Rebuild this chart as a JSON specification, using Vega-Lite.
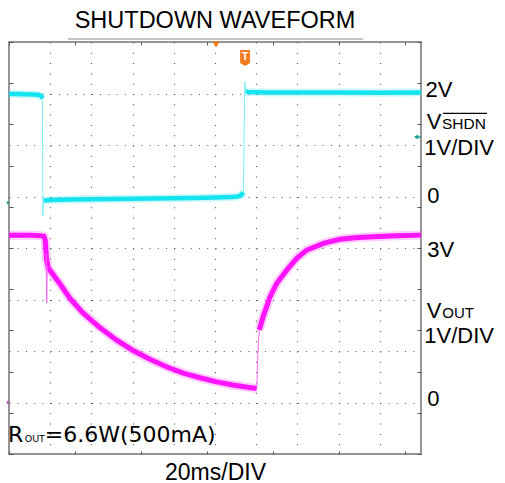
{
  "$schema": "https://vega.github.io/schema/vega-lite/v6.json",
  "width": 412,
  "height": 412,
  "autosize": {"type": "none"},
  "padding": {"left": 9, "top": 42, "right": 84, "bottom": 29},
  "background": "white",
  "config": {"view": {"stroke": "#959595", "strokeWidth": 2}},
  "datasets": {
    "cyanLevels": [
      {"seg": "a", "t": 0, "v": 1.99}, {"seg": "a", "t": 4, "v": 1.99}, {"seg": "a", "t": 8, "v": 1.985}, {"seg": "a", "t": 12, "v": 1.98}, {"seg": "a", "t": 14.5, "v": 1.97}, {"seg": "a", "t": 15.6, "v": 1.95}, {"seg": "a", "t": 16.2, "v": 1.9},
      {"seg": "b", "t": 16.7, "v": -0.08}, {"seg": "b", "t": 20, "v": -0.07}, {"seg": "b", "t": 30, "v": -0.06}, {"seg": "b", "t": 40, "v": -0.055}, {"seg": "b", "t": 50, "v": -0.05}, {"seg": "b", "t": 60, "v": -0.045}, {"seg": "b", "t": 70, "v": -0.04}, {"seg": "b", "t": 80, "v": -0.035}, {"seg": "b", "t": 90, "v": -0.03}, {"seg": "b", "t": 100, "v": -0.02}, {"seg": "b", "t": 108, "v": -0.01}, {"seg": "b", "t": 111, "v": 0}, {"seg": "b", "t": 112.8, "v": 0.03}, {"seg": "b", "t": 113.8, "v": 0.08},
      {"seg": "c", "t": 114.9, "v": 2.05}, {"seg": "c", "t": 116, "v": 2.03}, {"seg": "c", "t": 125, "v": 2.02}, {"seg": "c", "t": 140, "v": 2.02}, {"seg": "c", "t": 160, "v": 2.02}, {"seg": "c", "t": 180, "v": 2.015}, {"seg": "c", "t": 200, "v": 2.02}
    ],
    "cyanEdges": [
      {"seg": "e1", "t": 16.2, "v": 1.9}, {"seg": "e1", "t": 16.45, "v": -0.38}, {"seg": "e1", "t": 16.7, "v": -0.08},
      {"seg": "e2", "t": 113.8, "v": 0.08}, {"seg": "e2", "t": 114.45, "v": 2.23}, {"seg": "e2", "t": 114.9, "v": 2.05}
    ],
    "magLevels": [
      {"seg": "a", "t": 0, "v": 3.25}, {"seg": "a", "t": 5, "v": 3.25}, {"seg": "a", "t": 10, "v": 3.25}, {"seg": "a", "t": 15, "v": 3.24}, {"seg": "a", "t": 16.9, "v": 3.23}, {"seg": "a", "t": 17.6, "v": 3.15}, {"seg": "a", "t": 18.2, "v": 2.78}, {"seg": "a", "t": 19.1, "v": 2.61}, {"seg": "a", "t": 24.8, "v": 2.3}, {"seg": "a", "t": 29.6, "v": 2.02}, {"seg": "a", "t": 35.9, "v": 1.74}, {"seg": "a", "t": 44.2, "v": 1.45}, {"seg": "a", "t": 52.3, "v": 1.21}, {"seg": "a", "t": 60.2, "v": 1.01}, {"seg": "a", "t": 68.4, "v": 0.84}, {"seg": "a", "t": 76.7, "v": 0.69}, {"seg": "a", "t": 84.6, "v": 0.57}, {"seg": "a", "t": 92.7, "v": 0.48}, {"seg": "a", "t": 100.8, "v": 0.4}, {"seg": "a", "t": 108.7, "v": 0.34}, {"seg": "a", "t": 115, "v": 0.3}, {"seg": "a", "t": 120.3, "v": 0.27},
      {"seg": "b", "t": 121.5, "v": 1.41}, {"seg": "b", "t": 123.4, "v": 1.67}, {"seg": "b", "t": 126.7, "v": 2.05}, {"seg": "b", "t": 129.9, "v": 2.31}, {"seg": "b", "t": 134.8, "v": 2.57}, {"seg": "b", "t": 139.7, "v": 2.8}, {"seg": "b", "t": 144.5, "v": 2.96}, {"seg": "b", "t": 152.6, "v": 3.09}, {"seg": "b", "t": 160.7, "v": 3.17}, {"seg": "b", "t": 168, "v": 3.2}, {"seg": "b", "t": 176.8, "v": 3.22}, {"seg": "b", "t": 188, "v": 3.24}, {"seg": "b", "t": 200, "v": 3.25}
    ],
    "magEdges": [
      {"seg": "e1", "t": 18.0, "v": 2.9}, {"seg": "e1", "t": 18.3, "v": 1.93}, {"seg": "e1", "t": 18.55, "v": 2.65},
      {"seg": "e2", "t": 120.3, "v": 0.27}, {"seg": "e2", "t": 120.8, "v": 0.95}, {"seg": "e2", "t": 121.5, "v": 1.41}
    ],
    "one": [{"k": 1}]
  },
  "layer": [
    {
      "layer": [
        {
          "data": {"name": "cyanLevels"},
          "mark": {"type": "line", "color": "#5ee9f2", "strokeWidth": 8, "opacity": 0.3},
          "encoding": {
            "x": {"field": "t", "type": "quantitative", "scale": {"domain": [0, 200]},
              "axis": {"orient": "bottom", "values": [20, 40, 60, 80, 100, 120, 140, 160, 180], "grid": true, "gridDash": [1, 9.3], "gridColor": "#555555", "gridWidth": 1.2, "ticks": false, "labels": false, "domain": false, "title": "20ms/DIV", "titleFont": "Liberation Sans", "titleFontSize": 23, "titleFontWeight": "normal", "titleColor": "black", "titleBaseline": "alphabetic", "titlePadding": 25}},
            "y": {"field": "v", "type": "quantitative", "scale": {"domain": [-5, 3]},
              "axis": {"orient": "left", "values": [-4, -3, -2, -1, 0, 1, 2], "grid": true, "gridDash": [1, 7.24], "gridColor": "#555555", "gridWidth": 1.2, "ticks": false, "labels": false, "domain": false, "title": null}},
            "detail": {"field": "seg"}
          }
        },
        {
          "data": {"name": "cyanLevels"},
          "mark": {"type": "line", "color": "#14e4f0", "strokeWidth": 4.5},
          "encoding": {"x": {"field": "t", "type": "quantitative"}, "y": {"field": "v", "type": "quantitative"}, "detail": {"field": "seg"}}
        },
        {
          "data": {"name": "cyanEdges"},
          "mark": {"type": "line", "color": "#7deef6", "strokeWidth": 1},
          "encoding": {"x": {"field": "t", "type": "quantitative"}, "y": {"field": "v", "type": "quantitative"}, "detail": {"field": "seg"}}
        },
        {"data": {"name": "one"}, "mark": {"type": "text", "text": "2V", "align": "left", "baseline": "alphabetic", "font": "Liberation Sans", "fontSize": 22, "color": "black"}, "encoding": {"x": {"datum": 202.2}, "y": {"datum": 1.94}}},
        {"data": {"name": "one"}, "mark": {"type": "text", "text": "V", "align": "left", "baseline": "alphabetic", "font": "Liberation Sans", "fontSize": 22, "color": "black"}, "encoding": {"x": {"datum": 202.8}, "y": {"datum": 1.31}}},
        {"data": {"name": "one"}, "mark": {"type": "text", "text": "SHDN", "align": "left", "baseline": "alphabetic", "font": "Liberation Sans", "fontSize": 15.5, "color": "black"}, "encoding": {"x": {"datum": 210.2}, "y": {"datum": 1.31}}},
        {"data": {"name": "one"}, "mark": {"type": "rule", "color": "black", "strokeWidth": 1.2}, "encoding": {"x": {"datum": 210.7}, "x2": {"datum": 232}, "y": {"datum": 1.616}}},
        {"data": {"name": "one"}, "mark": {"type": "text", "text": "1V/DIV", "align": "left", "baseline": "alphabetic", "font": "Liberation Sans", "fontSize": 22, "color": "black"}, "encoding": {"x": {"datum": 201.6}, "y": {"datum": 0.806}}},
        {"data": {"name": "one"}, "mark": {"type": "text", "text": "0", "align": "left", "baseline": "alphabetic", "font": "Liberation Sans", "fontSize": 22, "color": "black"}, "encoding": {"x": {"datum": 203}, "y": {"datum": -0.13}}},
        {"data": {"name": "one"}, "mark": {"type": "point", "shape": "triangle-left", "filled": true, "size": 25, "color": "#1b9a9a", "opacity": 1}, "encoding": {"x": {"datum": 197.6}, "y": {"datum": 1.155}}},
        {"data": {"name": "one"}, "mark": {"type": "rule", "color": "#1b9a9a", "strokeWidth": 1.5}, "encoding": {"x": {"datum": 198}, "x2": {"datum": 200}, "y": {"datum": 1.155}}},
        {"data": {"name": "one"}, "mark": {"type": "point", "shape": "triangle-right", "filled": true, "size": 12, "color": "#1b9a9a", "opacity": 1}, "encoding": {"x": {"datum": -0.3}, "y": {"datum": -0.12}}},
        {"data": {"name": "one"}, "mark": {"type": "point", "shape": "triangle-down", "filled": true, "size": 55, "color": "#f47b20", "opacity": 1}, "encoding": {"x": {"datum": 100.5}, "y": {"datum": 2.95}}},
        {"data": {"name": "one"}, "mark": {"type": "point", "shape": "M -0.62 -1 H 0.62 V 0.62 L 0 1 L -0.62 0.62 Z", "filled": true, "size": 256, "color": "#f47b20", "opacity": 1}, "encoding": {"x": {"datum": 114.6}, "y": {"datum": 2.69}}},
        {"data": {"name": "one"}, "mark": {"type": "text", "text": "T", "align": "center", "baseline": "middle", "font": "Liberation Sans", "fontWeight": "bold", "fontSize": 11, "color": "white", "dy": -1}, "encoding": {"x": {"datum": 114.6}, "y": {"datum": 2.69}}}
      ]
    },
    {
      "layer": [
        {
          "data": {"name": "magLevels"},
          "mark": {"type": "line", "color": "#ff4dff", "strokeWidth": 9, "opacity": 0.28},
          "encoding": {
            "x": {"field": "t", "type": "quantitative", "scale": {"domain": [0, 200]},
              "axis": {"orient": "top", "values": [0, 4, 8, 12, 16, 20, 24, 28, 32, 36, 40, 44, 48, 52, 56, 60, 64, 68, 72, 76, 80, 84, 88, 92, 96, 100, 104, 108, 112, 116, 120, 124, 128, 132, 136, 140, 144, 148, 152, 156, 160, 164, 168, 172, 176, 180, 184, 188, 192, 196, 200], "ticks": true, "tickSize": -3, "tickColor": "#555555", "tickWidth": 1, "labels": false, "domain": false, "grid": false, "title": null}},
            "y": {"field": "v", "type": "quantitative", "scale": {"domain": [-1, 7]},
              "axis": {"orient": "left", "values": [-1, -0.8, -0.6, -0.4, -0.2, 0, 0.2, 0.4, 0.6, 0.8, 1, 1.2, 1.4, 1.6, 1.8, 2, 2.2, 2.4, 2.6, 2.8, 3, 3.2, 3.4, 3.6, 3.8, 4, 4.2, 4.4, 4.6, 4.8, 5, 5.2, 5.4, 5.6, 5.8, 6, 6.2, 6.4, 6.6, 6.8, 7], "ticks": true, "tickSize": -4, "tickColor": "#555555", "tickWidth": 1, "labels": false, "domain": false, "grid": false, "title": null}},
            "detail": {"field": "seg"}
          }
        },
        {
          "data": {"name": "magLevels"},
          "mark": {"type": "line", "color": "#ff14ff", "strokeWidth": 5},
          "encoding": {"x": {"field": "t", "type": "quantitative"}, "y": {"field": "v", "type": "quantitative"}, "detail": {"field": "seg"}}
        },
        {
          "data": {"name": "magEdges"},
          "mark": {"type": "line", "color": "#ff66ff", "strokeWidth": 1},
          "encoding": {"x": {"field": "t", "type": "quantitative"}, "y": {"field": "v", "type": "quantitative"}, "detail": {"field": "seg"}}
        },
        {"data": {"name": "one"}, "mark": {"type": "text", "text": "3V", "align": "left", "baseline": "alphabetic", "font": "Liberation Sans", "fontSize": 22, "color": "black"}, "encoding": {"x": {"datum": 203}, "y": {"datum": 2.82}}},
        {"data": {"name": "one"}, "mark": {"type": "text", "text": "V", "align": "left", "baseline": "alphabetic", "font": "Liberation Sans", "fontSize": 22, "color": "black"}, "encoding": {"x": {"datum": 202.8}, "y": {"datum": 1.65}}},
        {"data": {"name": "one"}, "mark": {"type": "text", "text": "OUT", "align": "left", "baseline": "alphabetic", "font": "Liberation Sans", "fontSize": 15, "color": "black"}, "encoding": {"x": {"datum": 210.3}, "y": {"datum": 1.65}}},
        {"data": {"name": "one"}, "mark": {"type": "text", "text": "1V/DIV", "align": "left", "baseline": "alphabetic", "font": "Liberation Sans", "fontSize": 22, "color": "black"}, "encoding": {"x": {"datum": 201.6}, "y": {"datum": 1.15}}},
        {"data": {"name": "one"}, "mark": {"type": "text", "text": "0", "align": "left", "baseline": "alphabetic", "font": "Liberation Sans", "fontSize": 22, "color": "black"}, "encoding": {"x": {"datum": 203}, "y": {"datum": -0.07}}},
        {"data": {"name": "one"}, "mark": {"type": "text", "text": "R", "align": "left", "baseline": "alphabetic", "font": "DejaVu Sans", "fontSize": 22, "color": "black"}, "encoding": {"x": {"datum": -0.5}, "y": {"datum": -0.76}}},
        {"data": {"name": "one"}, "mark": {"type": "text", "text": "OUT", "align": "left", "baseline": "alphabetic", "font": "DejaVu Sans", "fontSize": 9.5, "color": "black"}, "encoding": {"x": {"datum": 7.6}, "y": {"datum": -0.76}}},
        {"data": {"name": "one"}, "mark": {"type": "text", "text": "=6.6W(500mA)", "align": "left", "baseline": "alphabetic", "font": "DejaVu Sans", "fontSize": 22, "color": "black"}, "encoding": {"x": {"datum": 17.4}, "y": {"datum": -0.76}}},
        {"data": {"name": "one"}, "mark": {"type": "point", "shape": "triangle-right", "filled": true, "size": 12, "color": "#c040c0", "opacity": 1}, "encoding": {"x": {"datum": -0.3}, "y": {"datum": 0}}}
      ]
    },
    {
      "layer": [
        {
          "data": {"name": "one"},
          "mark": {"type": "rule", "color": "#b0b0b0", "strokeWidth": 1.5},
          "encoding": {
            "x": {"datum": 28.6, "scale": {"domain": [0, 200]},
              "axis": {"orient": "bottom", "values": [0, 4, 8, 12, 16, 20, 24, 28, 32, 36, 40, 44, 48, 52, 56, 60, 64, 68, 72, 76, 80, 84, 88, 92, 96, 100, 104, 108, 112, 116, 120, 124, 128, 132, 136, 140, 144, 148, 152, 156, 160, 164, 168, 172, 176, 180, 184, 188, 192, 196, 200], "ticks": true, "tickSize": -3, "tickColor": "#555555", "tickWidth": 1, "labels": false, "domain": false, "grid": false, "title": null}},
            "x2": {"datum": 171.8},
            "y": {"datum": 8.06, "scale": {"domain": [0, 8]},
              "axis": {"orient": "right", "values": [0, 0.2, 0.4, 0.6, 0.8, 1, 1.2, 1.4, 1.6, 1.8, 2, 2.2, 2.4, 2.6, 2.8, 3, 3.2, 3.4, 3.6, 3.8, 4, 4.2, 4.4, 4.6, 4.8, 5, 5.2, 5.4, 5.6, 5.8, 6, 6.2, 6.4, 6.6, 6.8, 7, 7.2, 7.4, 7.6, 7.8, 8], "ticks": true, "tickSize": -4, "tickColor": "#555555", "tickWidth": 1, "labels": false, "domain": false, "grid": false, "title": null}}
          }
        },
        {"data": {"name": "one"}, "mark": {"type": "text", "text": "SHUTDOWN WAVEFORM", "align": "center", "baseline": "alphabetic", "font": "Liberation Sans", "fontSize": 23.5, "color": "black"}, "encoding": {"x": {"datum": 100}, "y": {"datum": 8.266}}}
      ]
    }
  ],
  "resolve": {"scale": {"y": "independent"}, "axis": {"x": "independent", "y": "independent"}}
}
